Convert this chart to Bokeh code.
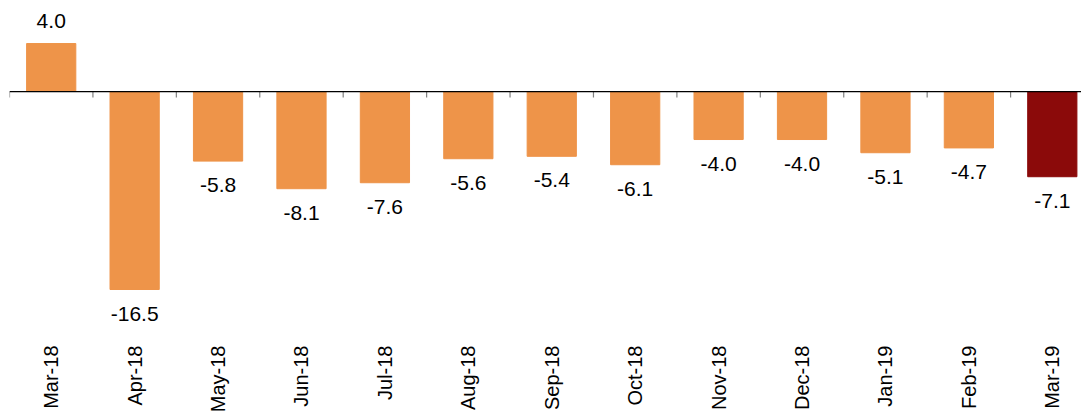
import math
from bokeh.plotting import figure
from bokeh.models import ColumnDataSource, Range1d, Span, FixedTicker
from bokeh.core.properties import value
from bokeh.embed import file_html
from bokeh.resources import INLINE

categories = ["Mar-18", "Apr-18", "May-18", "Jun-18", "Jul-18", "Aug-18", "Sep-18",
              "Oct-18", "Nov-18", "Dec-18", "Jan-19", "Feb-19", "Mar-19"]
values = [4.0, -16.5, -5.8, -8.1, -7.6, -5.6, -5.4, -6.1, -4.0, -4.0, -5.1, -4.7, -7.1]
labels = ["4.0", "-16.5", "-5.8", "-8.1", "-7.6", "-5.6", "-5.4", "-6.1", "-4.0", "-4.0", "-5.1", "-4.7", "-7.1"]

ORANGE = "#EE9449"
DARK = "#8B0A0A"

n = len(categories)
xs = list(range(n))
colors = [ORANGE] * (n - 1) + [DARK]
offsets = [-23 if v >= 0 else 24 for v in values]

src = ColumnDataSource(dict(x=xs, top=values, color=colors, label=labels, yoff=offsets))

p = figure(frame_width=1072, frame_height=332, output_backend="svg", toolbar_location=None,
           x_range=Range1d(-0.5, 12.35), y_range=Range1d(-20.75, 6.92),
           y_axis_location=None, min_border_left=9, min_border_right=0, min_border_top=8,
           min_border_bottom=0)
p.outline_line_color = None
p.grid.visible = False
p.background_fill_color = "white"
p.border_fill_color = "white"

p.vbar(x="x", top="top", bottom=0, width=0.59, color="color", source=src)

p.text(x="x", y="top", text="label", y_offset="yoff", source=src,
       text_align="center", text_baseline="alphabetic", text_color="black",
       text_font=value("Liberation Sans"), text_font_size="21px")

p.add_layout(Span(location=0, dimension="width", line_color="black", line_width=1.2))

bounds = [i - 0.5 for i in range(n)]
p.segment(x0=bounds, y0=[0] * n, x1=bounds, y1=[-0.5] * n, line_color="#808080", line_width=1.2)

ax = p.xaxis[0]
ax.ticker = FixedTicker(ticks=xs)
ax.major_label_overrides = {i: c for i, c in enumerate(categories)}
ax.major_label_orientation = math.pi / 2
ax.axis_line_color = None
ax.major_tick_line_color = None
ax.minor_tick_line_color = None
ax.major_tick_out = 0
ax.major_tick_in = 0
ax.major_label_standoff = 5
ax.major_label_text_font = "Liberation Sans"
ax.major_label_text_font_size = "20px"
ax.major_label_text_color = "black"

open("out.html", "w").write(file_html(p, INLINE))
